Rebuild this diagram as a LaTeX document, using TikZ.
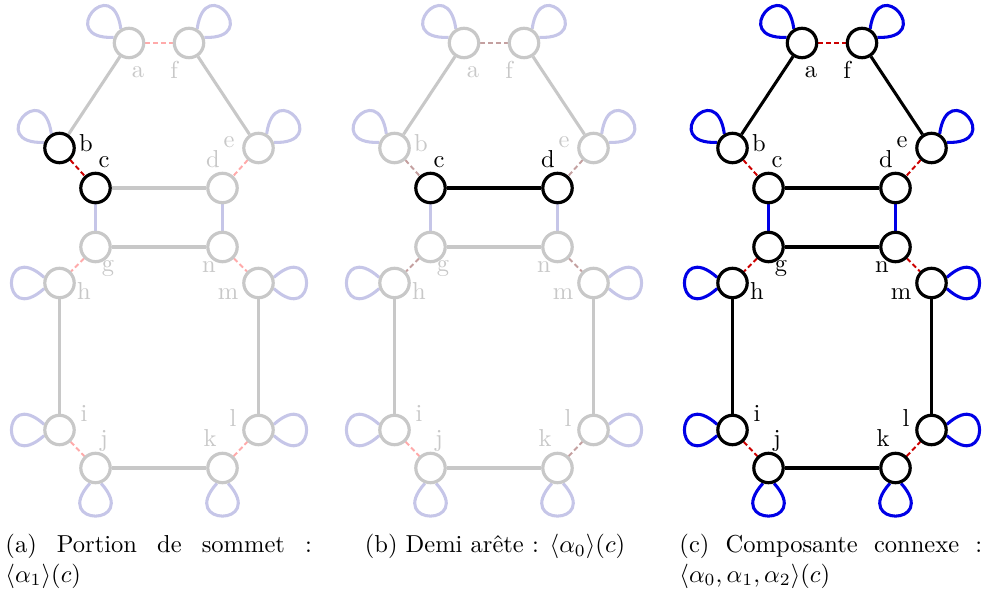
\documentclass[tikz,border=0pt]{standalone}
\pgfdeclarelayer{bg}
\pgfsetlayers{bg,main}
\definecolor{fgrey}{RGB}{200,200,200}
\definecolor{flav}{RGB}{198,198,232}
\definecolor{fpink}{RGB}{255,170,170}
\definecolor{fbrown}{RGB}{196,160,160}
\definecolor{dred}{RGB}{204,0,0}
\definecolor{dblue}{RGB}{0,0,230}
\tikzset{
 x=0.408pt, y=0.408pt,
 vtxB/.style={circle, draw=black, line width=1.3pt, minimum size=12pt, inner sep=0pt, fill=white},
 vtxF/.style={vtxB, draw=fgrey},
 labB/.style={font=\fontsize{10}{12}\selectfont, text=black, inner sep=0pt, anchor=base},
 labF/.style={labB, text=fgrey},
 e0B/.style={draw=black, line width=1.25pt},
 e0F/.style={draw=fgrey, line width=1.25pt},
 e1B/.style={draw=dred, line width=0.8pt, dash pattern=on 2pt off 1.2pt},
 e1F/.style={e1B, draw=fpink},
 e1G/.style={e1B, draw=fbrown},
 e2B/.style={draw=dblue, line width=1.25pt},
 e2F/.style={draw=flav, line width=1.25pt},
 capt/.style={inner sep=0pt, align=left},
 V/.style={vtxB}, L/.style={labB}, E0/.style={e0B}, E1/.style={e1B}, E2/.style={e2B},
 Va/.style={V}, Vb/.style={V}, Vc/.style={V}, Vd/.style={V}, Ve/.style={V}, Vf/.style={V}, Vg/.style={V},
 Vh/.style={V}, Vi/.style={V}, Vj/.style={V}, Vk/.style={V}, Vl/.style={V}, Vm/.style={V}, Vn/.style={V},
 La/.style={L}, Lb/.style={L}, Lc/.style={L}, Ld/.style={L}, Le/.style={L}, Lf/.style={L}, Lg/.style={L},
 Lh/.style={L}, Li/.style={L}, Lj/.style={L}, Lk/.style={L}, Ll/.style={L}, Lm/.style={L}, Ln/.style={L},
 Pa/.style={E2}, Pb/.style={E2}, Pe/.style={E2}, Pf/.style={E2}, Ph/.style={E2},
 Pi/.style={E2}, Pj/.style={E2}, Pk/.style={E2}, Pl/.style={E2}, Pm/.style={E2},
 E0ab/.style={E0}, E0fe/.style={E0}, E0cd/.style={E0}, E0gn/.style={E0}, E0hi/.style={E0}, E0ml/.style={E0}, E0jk/.style={E0},
 E1af/.style={E1}, E1bc/.style={E1}, E1ed/.style={E1}, E1gh/.style={E1}, E1nm/.style={E1}, E1ij/.style={E1}, E1kl/.style={E1},
 E2cg/.style={E2}, E2dn/.style={E2}
}
\newcommand\lp[3]{%
 \pgfmathtruncatemacro\lpA{mod(#2+20,360)}%
 \pgfmathtruncatemacro\lpB{mod(#2+340,360)}%
 \draw[#3] (#1.\lpA) .. controls +(#2+42:24pt) and +(#2-42:24pt) .. (#1.\lpB);}
\newcommand\gpanel[3]{%
\begin{scope}[shift={(#1,0)},#3]
 \node[Va] (#2a) at (-30,-43) {};
 \node[Vf] (#2f) at (30,-43) {};
 \node[Vb] (#2b) at (-99.5,-148) {};
 \node[Ve] (#2e) at (99.5,-148) {};
 \node[Vc] (#2c) at (-63.5,-188) {};
 \node[Vd] (#2d) at (63.5,-188) {};
 \node[Vg] (#2g) at (-63.5,-247) {};
 \node[Vn] (#2n) at (63.5,-247) {};
 \node[Vh] (#2h) at (-99.5,-283) {};
 \node[Vm] (#2m) at (99.5,-283) {};
 \node[Vi] (#2i) at (-99.5,-430) {};
 \node[Vl] (#2l) at (99.5,-430) {};
 \node[Vj] (#2j) at (-63.5,-468) {};
 \node[Vk] (#2k) at (63.5,-468) {};
 \node[La] (#2la) at (-21,-78) {a};
 \node[Lf] (#2lf) at (15,-79) {f};
 \node[Lb] (#2lb) at (-73,-152) {b};
 \node[Le] (#2le) at (70,-148) {e};
 \node[Lc] (#2lc) at (-55,-168) {c};
 \node[Ld] (#2ld) at (54,-168) {d};
 \node[Lg] (#2lg) at (-51,-272) {g};
 \node[Ln] (#2ln) at (50,-273) {n};
 \node[Lh] (#2lh) at (-75,-300) {h};
 \node[Lm] (#2lm) at (69,-300) {m};
 \node[Li] (#2li) at (-75,-422) {i};
 \node[Ll] (#2ll) at (74,-427) {l};
 \node[Lj] (#2lj) at (-55,-447) {j};
 \node[Lk] (#2lk) at (51,-447) {k};
 \begin{pgfonlayer}{bg}
  \draw[E0ab] (#2a) -- (#2b);
  \draw[E0fe] (#2f) -- (#2e);
  \draw[E0cd] (#2c) -- (#2d);
  \draw[E0gn] (#2g) -- (#2n);
  \draw[E0hi] (#2h) -- (#2i);
  \draw[E0ml] (#2m) -- (#2l);
  \draw[E0jk] (#2j) -- (#2k);
  \draw[E1af] (#2a) -- (#2f);
  \draw[E1bc] (#2b) -- (#2c);
  \draw[E1ed] (#2e) -- (#2d);
  \draw[E1gh] (#2g) -- (#2h);
  \draw[E1nm] (#2n) -- (#2m);
  \draw[E1ij] (#2i) -- (#2j);
  \draw[E1kl] (#2k) -- (#2l);
  \draw[E2cg] (#2c) -- (#2g);
  \draw[E2dn] (#2d) -- (#2n);
  \lp{#2a}{140}{Pa}
  \lp{#2b}{140}{Pb}
  \lp{#2f}{40}{Pf}
  \lp{#2e}{40}{Pe}
  \lp{#2h}{180}{Ph}
  \lp{#2i}{180}{Pi}
  \lp{#2m}{360}{Pm}
  \lp{#2l}{360}{Pl}
  \lp{#2j}{270}{Pj}
  \lp{#2k}{270}{Pk}
 \end{pgfonlayer}
\end{scope}}
\begin{document}
\begin{tikzpicture}
\useasboundingbox (0,0) rectangle (989,-590);
\gpanel{159}{pa}{V/.style={vtxF}, L/.style={labF}, E0/.style={e0F}, E1/.style={e1F}, E2/.style={e2F},
  Vb/.style={vtxB}, Vc/.style={vtxB}, Lb/.style={labB}, Lc/.style={labB}, E1bc/.style={e1B}}
\gpanel{494}{pb}{V/.style={vtxF}, L/.style={labF}, E0/.style={e0F}, E1/.style={e1G}, E2/.style={e2F},
  E1ij/.style={e1F}, Vc/.style={vtxB}, Vd/.style={vtxB}, Lc/.style={labB}, Ld/.style={labB}, E0cd/.style={e0B}}
\gpanel{832}{pc}{}
\node[capt, anchor=north west] (capa) at (5,-534) {\makebox[125pt][s]{(a) Portion de sommet :}\\$\langle\alpha_1\rangle(c)$};
\node[capt, anchor=north] (capb) at (495,-534) {(b) Demi arête : $\langle\alpha_0\rangle(c)$};
\node[capt, anchor=north west] (capc) at (679,-534) {\makebox[123.5pt][s]{(c) Composante connexe :}\\$\langle\alpha_0,\alpha_1,\alpha_2\rangle(c)$};
\end{tikzpicture}
\end{document}
